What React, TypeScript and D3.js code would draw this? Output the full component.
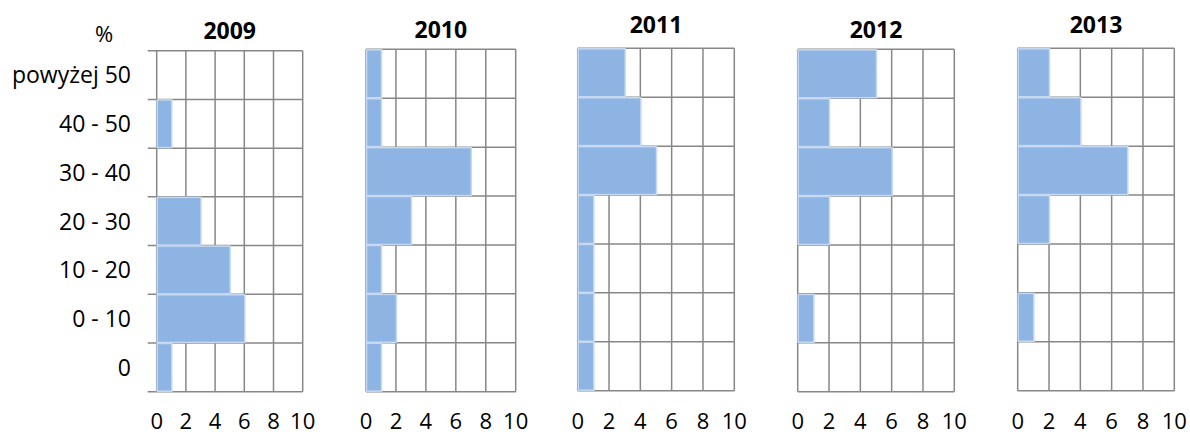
import React from "react";
import * as d3 from "d3";

const categories = ["powyżej 50", "40 - 50", "30 - 40", "20 - 30", "10 - 20", "0 - 10", "0"];
const years = ["2009", "2010", "2011", "2012", "2013"];
const values2009 = [0, 1, 0, 3, 5, 6, 1];
const values2010 = [1, 1, 7, 3, 1, 2, 1];
const values2011 = [3, 4, 5, 1, 1, 1, 1];
const values2012 = [5, 2, 6, 2, 0, 1, 0];
const values2013 = [2, 4, 7, 2, 0, 1, 0];
const seriesValues = [values2009, values2010, values2011, values2012, values2013];
const xTicks = [0, 2, 4, 6, 8, 10];
const unitLabel = "%";

// layout (pixels) of each small panel
const panels = [
  { left: 156.7, right: 302.7, top: 50.7, bottom: 391.7, titleY: 39 },
  { left: 366, right: 515.7, top: 49.3, bottom: 391.7, titleY: 38 },
  { left: 577.7, right: 734.3, top: 48.3, bottom: 390.7, titleY: 33 },
  { left: 797.7, right: 954.3, top: 49.3, bottom: 391.7, titleY: 38 },
  { left: 1017.7, right: 1174.3, top: 48.3, bottom: 390.7, titleY: 33 },
];

const FONT = "'Open Sans', 'Liberation Sans', sans-serif";
const GRID = "#878787";
const BAR = "#8EB4E3";
const BAR_EDGE = "#C6D9F1";

function Panel({ idx }: { idx: number }) {
  const p = panels[idx];
  const vals = seriesValues[idx];
  const x = d3.scaleLinear().domain([0, 10]).range([p.left, p.right]);
  const y = d3.scaleBand<string>().domain(categories).range([p.top, p.bottom]).padding(0);
  const bounds = [...categories.map((c) => y(c) as number), p.bottom];
  const tickLen = idx === 0 ? 9 : 0;
  return (
    <g>
      {xTicks.map((t) => (
        <line key={"v" + t} x1={x(t)} x2={x(t)} y1={p.top} y2={p.bottom} stroke={GRID} strokeWidth={1.5} />
      ))}
      {bounds.map((b, i) => (
        <line key={"h" + i} x1={p.left - tickLen} x2={p.right} y1={b} y2={b} stroke={GRID} strokeWidth={1.5} />
      ))}
      {categories.map((c, i) =>
        vals[i] > 0 ? (
          <rect
            key={"b" + i}
            x={x(0) + 0.5}
            y={(y(c) as number) + 0.5}
            width={x(vals[i]) - x(0)}
            height={y.bandwidth() - 1}
            fill={BAR}
            stroke={BAR_EDGE}
            strokeWidth={1.5}
          />
        ) : null
      )}
      <text
        x={(p.left + p.right) / 2}
        y={p.titleY}
        textAnchor="middle"
        fontFamily={FONT}
        fontWeight="bold"
        fontSize={23}
        fill="#000"
      >
        {years[idx]}
      </text>
      {xTicks.map((t) => (
        <text key={"t" + t} x={x(t)} y={428.5} textAnchor="middle" fontFamily={FONT} fontSize={22} fill="#000">
          {t}
        </text>
      ))}
      {idx === 0 &&
        categories.map((c) => (
          <text
            key={"y" + c}
            x={131}
            y={(y(c) as number) + y.bandwidth() / 2 + 8.3}
            textAnchor="end"
            fontFamily={FONT}
            fontSize={23}
            fill="#000"
          >
            {c}
          </text>
        ))}
    </g>
  );
}

export default function App() {
  return (
    <svg
      width={1190}
      height={435}
      style={{ position: "absolute", left: 0, top: 0, background: "#fff" }}
    >
      <rect x={0} y={0} width={1190} height={435} fill="#fff" />
      <text x={104} y={42} textAnchor="middle" fontFamily={FONT} fontSize={22} fill="#000">
        {unitLabel}
      </text>
      {years.map((yr, i) => (
        <Panel key={yr} idx={i} />
      ))}
    </svg>
  );
}
